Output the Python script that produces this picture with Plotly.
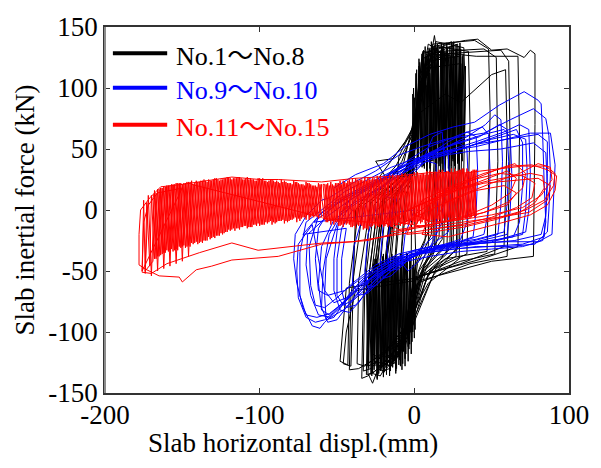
import plotly.graph_objects as go

# ---------------- data (mm, kN) ----------------
x_ticks = [-200, -100, 0, 100]
y_ticks = [-150, -100, -50, 0, 50, 100, 150]

legend_left = ["No.1", "No.9", "No.11"]
legend_right = ["No.8", "No.10", "No.15"]
legend_colors = ["#000000", "#0000ff", "#ff0000"]

# No.1 - No.8 (black)
black_pts = [
    (0, 0), (2, 50), (4, 96), (8, 102), (9, 60), (7, -25), (1, -45), (-2, -80), (-6, -104), (-10, -100), (-9, -45), (-6, 12),
    (-2, 22), (1, 62), (3, 112), (10, 118), (11, 70), (9, -30), (2, -52), (-3, -90), (-9, -118), (-14, -114), (-13, -50), (-10, 8),
    (-3, 25), (0, 70), (5, 124), (13, 128), (14, 64), (12, -28), (3, -55), (-4, -96), (-12, -124), (-17, -120), (-16, -40), (-12, 14),
    (-1, 30), (2, 80), (6, 130), (17, 126), (18, 78), (16, -22), (5, -50), (-2, -84), (-15, -128), (-21, -125), (-20, -55), (-15, 5),
    (-4, 28), (1, 75), (9, 136), (14, 132), (15, 90), (13, -34), (4, -58), (-5, -105), (-19, -132), (-24, -130), (-23, -60), (-18, 10),
    (-2, 34), (3, 90), (11, 128), (13, 143), (15, 126), (20, 130), (21, 84), (19, -30), (6, -48), (-3, -94), (-22, -136), (-27, -134), (-26, -52), (-20, 14),
    (-5, 32), (1, 70), (7, 120), (22, 128), (23, 70), (21, -36), (7, -52), (-6, -112), (-24, -132), (-27, -142), (-30, -134), (-29, -66), (-22, 6),
    (-3, 26), (2, 84), (10, 132), (25, 134), (26, 88), (24, -28), (8, -56), (-4, -98), (-18, -126), (-24, -128), (-24, -48), (-19, 16),
    (-6, 30), (0, 68), (8, 126), (28, 136), (29, 74), (27, -38), (10, -50), (-2, -90), (-28, -130), (-33, -132), (-32, -62), (-26, 4),
    (-4, 36), (3, 92), (14, 138), (32, 133), (33, 96), (31, -26), (12, -54), (-5, -102), (-32, -128), (-37, -126), (-36, -58), (-28, 8),
    (-7, 38), (0, 76), (6, 116), (30, 120), (31, 70), (29, -40), (9, -60), (-3, -88), (-14, -118), (-20, -121), (-19, -54), (-14, 18),
    (-25, 40), (-14, 42), (-6, 56), (0, 70), (5, 108), (12, 136), (39, 139), (48, 132), (49, 80), (48, 20), (47, -34), (20, -40), (0, -58),
    (-20, -62), (-38, -66), (-44, -100), (-46, -126), (-41, -128), (-40, -80), (-38, 0),
    (-14, 42), (-2, 62), (4, 100), (16, 130), (45, 132), (53, 125), (54, 40), (52, -36), (30, -42), (1, -56), (-25, -60), (-44, -64),
    (-48, -124), (-43, -127), (-42, -60), (-36, 2),
    (-12, 36), (0, 64), (7, 118), (20, 128), (56, 131), (61, 122), (62, 50), (60, -38), (36, -44), (2, -60), (-10, -118), (-30, -136),
    (-34, -138), (-33, -70), (-28, 6),
    (-6, 30), (4, 80), (20, 95), (30, 88), (50, 111), (59, 115), (60, 60), (58, -30), (30, -44), (0, -56), (-8, -110), (-16, -128),
    (-20, -126), (-19, -50), (-12, 10),
    (-10, 44), (1, 72), (9, 130), (40, 126), (67, 126), (68, 60), (67, -30), (44, -40), (0, -55), (-6, -96), (-25, -125), (-30, -128),
    (-29, -50), (-23, 12),
    (-8, 40), (2, 74), (12, 134), (33, 139), (41, 140), (50, 131), (60, 132), (71, 125), (75, 131), (78, 128), (78, 70), (77, -38),
    (50, -42), (3, -58), (-7, -108), (-36, -130), (-42, -131), (-41, -70), (-33, 4),
    (-5, 30), (2, 88), (5, 128), (18, 134), (19, 82), (18, -24), (6, -46), (-2, -90), (-10, -120), (-15, -122), (-15, -40), (-11, 12),
    (-2, 24), (1, 70), (4, 110), (12, 120), (13, 50), (11, -20), (2, -44), (-1, -78), (-8, -112), (-12, -110), (-12, -40), (-8, 18),
    (-3, 32), (2, 80), (11, 128), (26, 126), (27, 60), (25, -30), (6, -50), (-3, -100), (-20, -126), (-26, -124), (-25, -52), (-19, 10),
    (-4, 30), (3, 94), (15, 134), (35, 130), (36, 70), (34, -36), (14, -48), (-4, -104), (-26, -133), (-31, -135), (-30, -60), (-24, 0),
    (-1, 28), (4, 100), (8, 126), (24, 138), (25, 86), (23, -26), (4, -52), (-2, -86), (-13, -126), (-19, -124), (-18, -44), (-13, 12),
    (-3, 30), (2, 76), (6, 114), (15, 124), (16, 60), (14, -30), (3, -50), (-3, -94), (-22, -122), (-27, -118), (-26, -50), (-20, 10),
    (-2, 34), (1, 80), (9, 122), (29, 126), (30, 92), (28, -32), (9, -52), (-2, -98), (-16, -130), (-21, -132), (-20, -60), (-15, 8),
    (-4, 26), (0, 66), (3, 104), (10, 112), (11, 62), (9, -18), (1, -40), (-2, -72), (-6, -100), (-9, -96), (-8, -30), (-4, 20),
    # dense upper column
    (2, 40), (3, 118), (5, 35), (6, 125), (8, 30), (9, 128), (11, 40), (12, 132), (14, 35), (15, 126), (17, 30), (18, 134),
    (20, 38), (21, 122), (23, 30), (24, 130), (26, 36), (27, 128), (29, 32), (30, 120), (31, 40), (30, 132), (28, 45), (27, 136),
    (25, 40), (24, 124), (22, 34), (21, 137), (19, 42), (18, 126), (16, 36), (15, 135), (13, 44), (12, 127), (10, 38), (9, 121),
    (7, 46), (6, 131), (4, 40), (3, 110), (1, 50), (0, 92), (-1, 40),
    (-1, 95), (0, 45), (1, 112), (2, 38), (3, 124), (4, 42), (5, 128), (6, 36), (7, 134), (8, 44), (9, 130), (10, 34), (11, 138),
    (12, 40), (13, 133), (14, 32), (15, 136), (16, 45), (17, 130), (18, 38), (19, 135), (20, 30), (21, 128), (22, 42), (23, 134),
    (24, 36), (25, 137), (26, 44), (27, 131), (28, 38), (29, 134), (30, 46), (31, 126), (32, 50), (33, 118),
    (32.5, 60), (31.5, 128), (30.5, 48), (29.5, 137), (28.5, 40), (27.5, 130), (26.5, 34), (25.5, 138), (24.5, 42), (23.5, 126),
    (22.5, 36), (21.5, 133), (20.5, 44), (19.5, 129), (18.5, 32), (17.5, 137), (16.5, 40), (15.5, 131), (14.5, 38), (13.5, 135),
    (12.5, 46), (11.5, 127), (10.5, 36), (9.5, 133), (8.5, 42), (7.5, 126), (6.5, 34), (5.5, 130), (4.5, 46), (3.5, 121),
    (2.5, 40), (1.5, 115), (0.5, 50), (-0.5, 100), (-1.5, 45),
    # dense lower column
    (-2, -40), (-3, -110), (-5, -35), (-6, -122), (-8, -45), (-9, -128), (-11, -40), (-12, -132), (-14, -38), (-15, -126),
    (-17, -42), (-18, -135), (-20, -36), (-21, -130), (-23, -44), (-24, -138), (-26, -40), (-27, -133), (-29, -48), (-30, -128),
    (-28, -50), (-27, -126), (-25, -44), (-23, -134), (-22, -40), (-19, -128), (-18, -36), (-16, -131), (-15, -42), (-13, -124),
    (-12, -38), (-10, -120), (-9, -44), (-7, -116), (-6, -40), (-4, -112), (-3, -46), (-1, -100), (0, -50),
    (0, -105), (-1, -45), (-2, -118), (-3, -38), (-4, -124), (-5, -46), (-6, -128), (-7, -40), (-8, -131), (-9, -36), (-10, -127),
    (-11, -44), (-12, -134), (-13, -38), (-14, -129), (-15, -46), (-16, -136), (-17, -40), (-18, -130), (-19, -48), (-20, -137),
    (-21, -42), (-22, -132), (-23, -50), (-24, -139), (-25, -46), (-26, -131), (-27, -52), (-28, -134), (-29, -55), (-30, -126),
    (-31, -60),
    (-30.5, -58), (-29.5, -130), (-28.5, -50), (-27.5, -136), (-26.5, -44), (-25.5, -128), (-24.5, -40), (-23.5, -135),
    (-22.5, -46), (-21.5, -129), (-20.5, -38), (-19.5, -133), (-18.5, -44), (-17.5, -127), (-16.5, -40), (-15.5, -132),
    (-14.5, -36), (-13.5, -125), (-12.5, -42), (-11.5, -130), (-10.5, -38), (-9.5, -123), (-8.5, -44), (-7.5, -126),
    (-6.5, -40), (-5.5, -118), (-4.5, -36), (-3.5, -114), (-2.5, -42), (-1.5, -108), (-0.5, -38), (0.5, -98), (1, -40), (0, 0),
]

# No.9 - No.10 (blue)
blue_pts = [
    (-52, 18), (-38, 29), (-20, 38), (-6, 52), (10, 62), (25, 68), (39, 72), (55, 86), (71, 97), (80, 90), (82, 87), (83, 60),
    (84, 20), (85, -10), (83, -25), (70, -30), (50, -32), (30, -34), (10, -38), (-5, -42), (-20, -50), (-35, -62), (-48, -80),
    (-58, -92), (-61, -97), (-66, -95), (-72, -80), (-76, -60), (-78, -40), (-77, -20), (-70, -5), (-60, 8),
    (-55, 10), (-40, 22), (-25, 32), (-10, 45), (5, 52), (20, 58), (45, 63), (62, 74), (77, 83), (85, 75), (87, 61), (88, 30),
    (87, 0), (86, -18), (78, -28), (60, -30), (40, -30), (20, -33), (0, -36), (-15, -42), (-30, -55), (-45, -75), (-55, -85),
    (-63, -88), (-70, -86), (-74, -70), (-74, -35), (-70, -10),
    (-60, 0), (-45, 15), (-30, 25), (-15, 35), (0, 42), (20, 48), (40, 52), (60, 58), (75, 63), (88, 63), (91, 37), (90, 9),
    (89, -20), (80, -26), (60, -26), (30, -28), (10, -30), (-10, -36), (-25, -45), (-40, -60), (-50, -72), (-58, -80),
    (-64, -78), (-67, -62), (-68, -30), (-62, -5),
    (-50, 8), (-35, 18), (-20, 28), (-5, 38), (15, 44), (35, 48), (56, 50), (77, 55), (85, 47), (86, 20), (85, -5), (82, -20),
    (65, -25), (40, -28), (20, -30), (0, -34), (-15, -40), (-30, -52), (-45, -66), (-56, -70), (-62, -66), (-64, -40),
    (-62, -15), (-55, 0),
    (-45, 10), (-30, 20), (-15, 30), (0, 40), (20, 48), (40, 56), (58, 64), (68, 70), (74, 66), (75, 30), (74, 0), (72, -18),
    (55, -24), (30, -28), (10, -32), (-5, -38), (-20, -48), (-35, -62), (-48, -78), (-55, -86), (-60, -82), (-62, -60),
    (-60, -30), (-52, -8),
    (-38, 5), (-22, 18), (-8, 30), (8, 40), (30, 50), (52, 60), (66, 66), (70, 55), (70, 20), (68, -10), (64, -22), (45, -26),
    (25, -30), (5, -34), (-10, -40), (-25, -52), (-38, -70), (-50, -90), (-56, -92), (-60, -80), (-59, -50), (-55, -20), (-48, -5),
    (-40, 12), (-25, 22), (-10, 34), (5, 44), (25, 54), (45, 62), (58, 66), (62, 60), (63, 30), (62, 0), (60, -20), (40, -26),
    (20, -30), (0, -36), (-15, -46), (-30, -60), (-40, -74), (-46, -78), (-50, -70), (-50, -40), (-47, -15), (-40, 0),
    (-45, 5), (-28, 20), (-12, 32), (2, 42), (22, 52), (42, 60), (55, 70), (60, 66), (61, 40), (60, 5), (58, -18), (40, -24),
    (20, -28), (0, -33), (-12, -40), (-28, -52), (-40, -66), (-52, -88), (-57, -90), (-58, -70), (-57, -40), (-50, -12),
    (-35, 14), (-20, 26), (-5, 40), (10, 52), (30, 62), (44, 68), (48, 62), (49, 30), (48, 0), (45, -20), (30, -26), (10, -32),
    (-5, -40), (-20, -55), (-30, -68), (-36, -70), (-40, -60), (-39, -30), (-34, -8),
    (-30, 10), (-15, 24), (0, 36), (15, 48), (28, 56), (34, 50), (35, 20), (34, -10), (30, -24), (15, -30), (0, -38),
    (-15, -50), (-25, -62), (-30, -64), (-32, -50), (-30, -20), (-25, 0),
    (-25, 16), (-10, 30), (5, 44), (18, 52), (22, 46), (23, 10), (22, -18), (10, -30), (-5, -42), (-15, -54), (-20, -56),
    (-22, -40), (-20, -10), (-12, 8),
    (-20, 12), (-5, 28), (8, 40), (14, 38), (15, 10), (14, -20), (2, -34), (-10, -48), (-16, -50), (-18, -30), (-14, 0),
    (-8, 20), (4, 36), (12, 60), (18, 64), (20, 30), (18, -10), (8, -36), (-4, -50), (-8, -44), (-6, -20), (0, 0),
    (-65, -10), (-50, 5), (-35, 15), (-18, 26), (-3, 36), (15, 45), (35, 52), (50, 58), (64, 62), (72, 58), (73, 30), (72, 0),
    (70, -20), (50, -26), (28, -30), (8, -34), (-8, -42), (-22, -54), (-36, -70), (-46, -82), (-54, -88), (-62, -86),
    (-67, -70), (-70, -45), (-69, -20),
    (-56, -5), (-42, 8), (-28, 18), (-14, 28), (2, 40), (18, 50), (34, 60), (46, 70), (52, 78), (56, 74), (57, 40), (56, 5),
    (54, -20), (36, -26), (16, -30), (-2, -36), (-14, -44), (-26, -58), (-36, -76), (-42, -84), (-48, -82), (-52, -66),
    (-52, -40), (-50, -18),
    (-48, -2), (-34, 10), (-20, 20), (-6, 32), (8, 44), (22, 56), (34, 64), (40, 60), (41, 30), (40, 0), (38, -22), (24, -28),
    (6, -34), (-8, -42), (-20, -52), (-30, -66), (-38, -78), (-44, -80), (-47, -66), (-47, -40), (-44, -15),
    (-72, -20), (-60, -2), (-45, 10), (-30, 20), (-15, 28), (0, 38), (18, 46), (40, 54), (60, 58), (80, 62), (86, 56), (86, 30),
    (85, 0), (84, -22), (70, -28), (48, -30), (24, -32), (4, -36), (-12, -44), (-28, -56), (-44, -74), (-52, -84), (-58, -90),
    (-64, -92), (-70, -88), (-75, -72), (-76, -50), (-75, -28),
    (-66, -12), (-62, -40), (-58, -66), (-52, -76), (-44, -72), (-36, -60), (-26, -48), (-12, -40), (0, -36),
]

# No.11 - No.15 (red)
red_pts = [
    (0, -15), (-30, -25), (-60, -28), (-88, -38), (-118, -41), (-131, -46), (-141, -49), (-150, -59), (-152, -55),
    (-165, -54), (-173, -49), (-178, -45), (-178, -20), (-177, 0), (-171, 10), (-164, 19), (-150, 21), (-139, 23),
    (-118, 27), (-100, 25), (-88, 25), (-60, 23), (-38, 26), (-10, 28), (13, 31),
    (30, 30), (50, 33), (70, 36), (85, 36), (91, 30), (90, 20), (84, 8), (72, 0), (55, -6), (35, -12), (15, -15), (0, -18),
    (-20, -22), (-40, -26), (-59, -27), (-80, -30), (-101, -33), (-118, -27), (-139, -35), (-160, -44), (-170, -52),
    (-176, -51), (-175, -10), (-172, 4), (-166, 14), (-150, 18),
    # deep strokes at the far left
    (-176, -50), (-175, 8), (-174, -52), (-172, 12), (-170, -54), (-168, 16), (-166, -50), (-164, 18), (-162, -48),
    (-160, 19), (-158, -46), (-156, 20), (-154, -44), (-152, 21), (-150, -42), (-148, 22), (-146, -38), (-144, 21),
    # dense left region, leftward sweep
    (-60, -6), (-62, 22), (-64, -4), (-66, 20), (-68, -8), (-70, 23), (-72, -6), (-74, 21), (-76, -10), (-78, 24),
    (-80, -8), (-82, 22), (-84, -11), (-86, 25), (-88, -9), (-90, 23), (-92, -12), (-94, 24), (-96, -10), (-98, 26),
    (-100, -13), (-102, 24), (-104, -12), (-106, 26), (-108, -15), (-110, 25), (-112, -14), (-114, 27), (-116, -17),
    (-118, 25), (-120, -16), (-122, 26), (-124, -20), (-126, 24), (-128, -21), (-130, 25), (-132, -24), (-134, 23),
    (-136, -25), (-138, 24), (-140, -28), (-142, 22), (-144, -27), (-146, 23), (-148, -31), (-150, 21), (-152, -30),
    (-154, 22), (-156, -34), (-158, 20), (-160, -33), (-162, 19), (-164, -37), (-166, 17), (-168, -40), (-170, 12),
    (-171, -46), (-173, 6), (-174, -50),
    # rightward sweep
    (-169, -42), (-167, 14), (-165, -38), (-163, 18), (-161, -35), (-159, 20), (-157, -32), (-155, 21), (-153, -33),
    (-151, 22), (-149, -29), (-147, 23), (-145, -30), (-143, 21), (-141, -26), (-139, 23), (-137, -27), (-135, 24),
    (-133, -22), (-131, 24), (-129, -23), (-127, 25), (-125, -19), (-123, 26), (-121, -18), (-119, 26), (-117, -15),
    (-115, 26), (-113, -16), (-111, 25), (-109, -13), (-107, 25), (-105, -14), (-103, 24), (-101, -11), (-99, 25),
    (-97, -12), (-95, 23), (-93, -9), (-91, 24), (-89, -10), (-87, 22), (-85, -8), (-83, 23), (-81, -9), (-79, 21),
    (-77, -6), (-75, 22), (-73, -7), (-71, 20), (-69, -4), (-67, 21), (-65, -6), (-63, 19), (-61, -3),
    # leftward sweep, opposite phase
    (-60, 21), (-62, -7), (-64, 20), (-66, -5), (-68, 22), (-70, -8), (-72, 21), (-74, -9), (-76, 23), (-78, -7),
    (-80, 22), (-82, -10), (-84, 24), (-86, -9), (-88, 23), (-90, -11), (-92, 25), (-94, -10), (-96, 24), (-98, -12),
    (-100, 26), (-102, -13), (-104, 25), (-106, -14), (-108, 27), (-110, -13), (-112, 26), (-114, -15), (-116, 26),
    (-118, -16), (-120, 27), (-122, -18), (-124, 25), (-126, -21), (-128, 26), (-130, -22), (-132, 24), (-134, -25),
    (-136, 25), (-138, -26), (-140, 23), (-142, -27), (-144, 24), (-146, -29), (-148, 22), (-150, -30), (-152, 22),
    (-154, -32), (-156, 21), (-158, -33), (-160, 20), (-162, -35), (-164, 18), (-166, -38), (-168, 14),
    # rightward sweep, opposite phase
    (-169, 10), (-167, -40), (-165, 17), (-163, -36), (-161, 19), (-159, -34), (-157, 21), (-155, -33), (-153, 22),
    (-151, -31), (-149, 22), (-147, -30), (-145, 23), (-143, -28), (-141, 24), (-139, -27), (-137, 24), (-135, -25),
    (-133, 25), (-131, -23), (-129, 26), (-127, -21), (-125, 25), (-123, -19), (-121, 27), (-119, -17), (-117, 26),
    (-115, -15), (-113, 27), (-111, -14), (-109, 26), (-107, -14), (-105, 25), (-103, -12), (-101, 26), (-99, -12),
    (-97, 24), (-95, -11), (-93, 25), (-91, -10), (-89, 24), (-87, -9), (-85, 23), (-83, -9), (-81, 22), (-79, -8),
    (-77, 23), (-75, -7), (-73, 21), (-71, -6), (-69, 22), (-67, -6), (-65, 20), (-63, -5), (-61, 21),
    # middle band, rightward
    (-58, -8), (-56, 22), (-54, -12), (-52, 20), (-50, -10), (-48, 24), (-46, -14), (-44, 22), (-42, -12), (-40, 26),
    (-38, -15), (-36, 24), (-34, -13), (-32, 27), (-30, -16), (-28, 25), (-26, -12), (-24, 28), (-22, -14), (-20, 26),
    (-18, -11), (-16, 29), (-14, -13), (-12, 27), (-10, -10), (-8, 30), (-6, -12), (-4, 28), (-2, -9), (0, 31),
    (2, -11), (4, 29), (6, -8), (8, 32), (10, -10), (12, 30), (14, -7), (16, 33), (18, -9), (20, 31), (22, -6),
    (24, 34), (26, -8), (28, 32), (30, -5), (32, 34), (34, -7), (36, 31), (38, -4), (40, 33),
    # middle band, leftward
    (39, -6), (37, 32), (35, -5), (33, 30), (31, -8), (29, 33), (27, -6), (25, 31), (23, -9), (21, 32), (19, -7),
    (17, 30), (15, -10), (13, 31), (11, -8), (9, 29), (7, -11), (5, 30), (3, -9), (1, 28), (-1, -12), (-3, 29),
    (-5, -10), (-7, 27), (-9, -13), (-11, 28), (-13, -11), (-15, 26), (-17, -14), (-19, 27), (-21, -12), (-23, 25),
    (-25, -15), (-27, 26), (-29, -13), (-31, 24), (-33, -16), (-35, 25), (-37, -12), (-39, 23), (-41, -14), (-43, 24),
    (-45, -11), (-47, 21), (-49, -13), (-51, 22), (-53, -9), (-55, 20), (-57, -10), (-59, 21),
    # middle band, opposite phase
    (-58, 21), (-56, -10), (-54, 23), (-52, -12), (-50, 22), (-48, -13), (-46, 24), (-44, -12), (-42, 25), (-40, -14),
    (-38, 26), (-36, -13), (-34, 25), (-32, -15), (-30, 27), (-28, -14), (-26, 26), (-24, -13), (-22, 28), (-20, -14),
    (-18, 27), (-16, -12), (-14, 29), (-12, -13), (-10, 28), (-8, -11), (-6, 30), (-4, -12), (-2, 29), (0, -10),
    (2, 31), (4, -11), (6, 30), (8, -9), (10, 32), (12, -10), (14, 31), (16, -8), (18, 33), (20, -9), (22, 32),
    (24, -7), (26, 34), (28, -8), (30, 33), (32, -6), (34, 34), (36, -7), (38, 33), (40, -5),
    (39, 33), (37, -6), (35, 32), (33, -7), (31, 34), (29, -8), (27, 32), (25, -9), (23, 31), (21, -8), (19, 31),
    (17, -10), (15, 30), (13, -9), (11, 30), (9, -11), (7, 29), (5, -10), (3, 29), (1, -12), (-1, 28), (-3, -11),
    (-5, 28), (-7, -13), (-9, 27), (-11, -12), (-13, 27), (-15, -14), (-17, 26), (-19, -13), (-21, 26), (-23, -14),
    (-25, 25), (-27, -13), (-29, 25), (-31, -15), (-33, 24), (-35, -12), (-37, 25), (-39, -13), (-41, 23), (-43, -11),
    (-45, 23), (-47, -12), (-49, 22), (-51, -10), (-53, 21), (-55, -9), (-57, 21), (-59, -7),
    # right-side loops
    (-10, -12), (10, 0), (30, 12), (50, 22), (68, 30), (80, 38), (88, 35), (89, 25), (82, 12), (70, 2), (50, -4),
    (30, -8), (10, -12), (-10, -16),
    (-20, -10), (0, 2), (20, 14), (40, 26), (55, 34), (65, 38), (72, 30), (70, 18), (60, 6), (45, -2), (25, -8),
    (5, -14), (-15, -18),
    (-5, 0), (15, 10), (35, 20), (52, 28), (60, 32), (66, 26), (62, 14), (50, 4), (35, -4), (18, -10), (0, -14),
    (10, 5), (30, 18), (48, 24), (75, 30), (83, 28), (84, 18), (78, 6), (68, -2), (52, -8), (32, -14), (12, -18),
    (-5, -20),
    (5, 8), (25, 20), (45, 30), (62, 36), (76, 37), (86, 33), (92, 28), (91, 16), (86, 4), (75, -4), (58, -10),
    (40, -16), (22, -22), (5, -20),
    (15, 12), (35, 24), (55, 30), (70, 28), (78, 22), (76, 10), (66, 2), (50, -6), (30, -12), (10, -16),
    (20, 6), (40, 16), (58, 20), (66, 14), (60, 4), (45, -2), (28, -8), (12, -10),
    (0, -4), (20, 14), (45, 22), (80, 26), (88, 20), (86, 8), (74, -2), (54, -6), (30, -10), (8, -14), (-10, -10),
]

# ---------------- figure ----------------
fig = go.Figure()
for pts, col in [(black_pts, legend_colors[0]), (blue_pts, legend_colors[1]), (red_pts, legend_colors[2])]:
    xs, ys = zip(*pts)
    fig.add_trace(go.Scatter(x=list(xs), y=list(ys), mode="lines",
                             line=dict(color=col, width=1), hoverinfo="skip", showlegend=False))

font_family = "Liberation Serif"
axis_common = dict(showgrid=False, zeroline=False, showline=True, linecolor="#333333", linewidth=1.5,
                   mirror="ticks", ticks="inside", ticklen=5, tickcolor="#333333",
                   tickfont=dict(family=font_family, size=27, color="black"))

fig.update_layout(
    width=601, height=468,
    margin=dict(l=105, r=25, t=19, b=75),
    plot_bgcolor="white", paper_bgcolor="white",
    showlegend=False,
    font=dict(family=font_family, size=27, color="black"),
    xaxis=dict(range=[-200, 100], tickvals=x_ticks, ticktext=[str(v) for v in x_ticks],
               ticklabelstandoff=-3, **axis_common),
    yaxis=dict(range=[-150, 150], tickvals=y_ticks, ticktext=[str(v) for v in y_ticks],
               title=dict(text="Slab inertial force (kN)", font=dict(family=font_family, size=27), standoff=6),
               **axis_common),
)

# x-axis title (placed left of centre as in the reference)
fig.add_annotation(xref="paper", yref="paper", x=0.405, y=-0.137, xanchor="center", yanchor="middle",
                   text="Slab horizontal displ.(mm)", showarrow=False,
                   font=dict(family=font_family, size=27, color="black"))

# lighter left frame line
fig.add_shape(type="line", xref="paper", yref="paper", x0=0, x1=0, y0=0, y1=1,
              line=dict(color="#8c8c8c", width=2))

# manual legend (coloured text and long thick sample lines)
legend_y = [0.928, 0.834, 0.733]
for a, b, col, yy in zip(legend_left, legend_right, legend_colors, legend_y):
    fig.add_shape(type="line", xref="paper", yref="paper", x0=0.017, x1=0.134, y0=yy, y1=yy,
                  line=dict(color=col, width=4))
    label = a + "<span style='font-family:Noto Sans CJK JP'>～</span>" + b
    fig.add_annotation(xref="paper", yref="paper", x=0.148, y=yy, xanchor="left", yanchor="middle",
                       text=label, showarrow=False, font=dict(family=font_family, size=26, color=col))

fig.write_html("out.html")
